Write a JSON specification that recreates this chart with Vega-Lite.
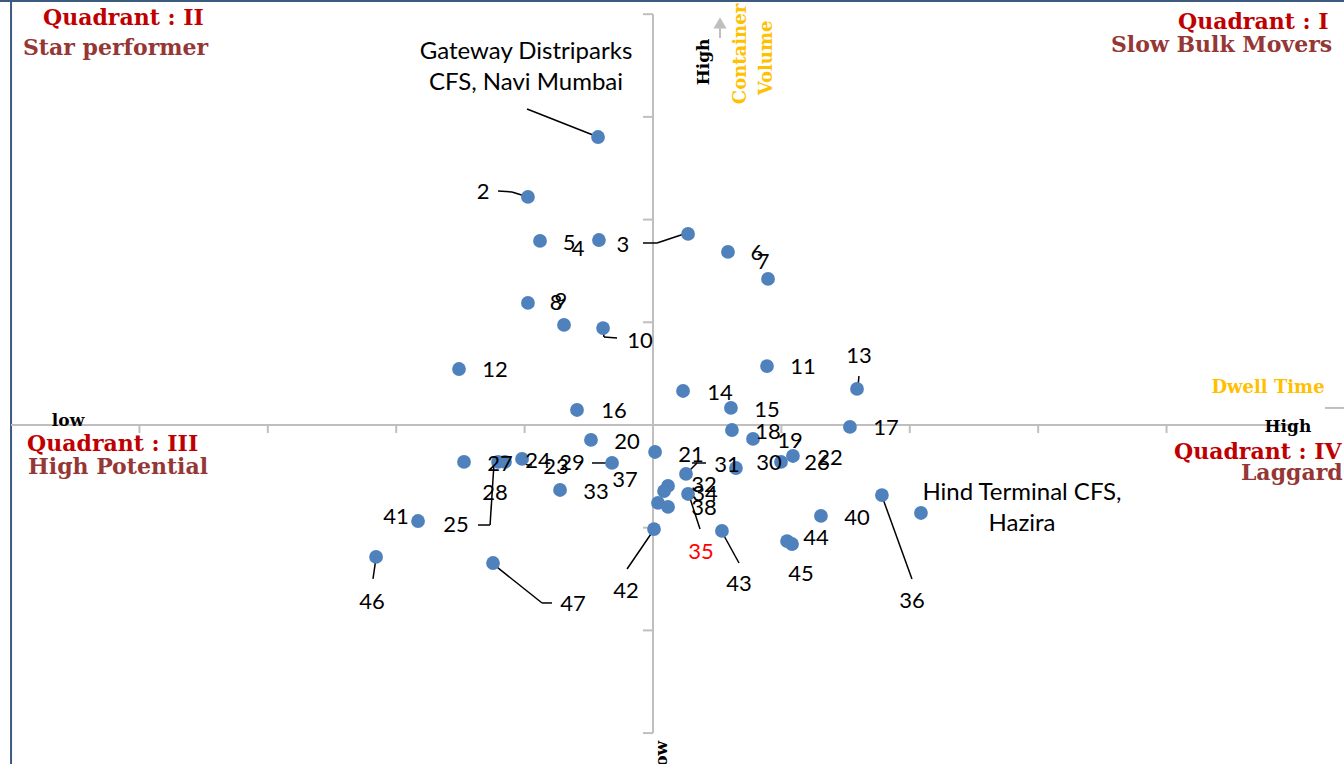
{
  "$schema": "https://vega.github.io/schema/vega-lite/v6.json",
  "width": 1344,
  "height": 764,
  "autosize": {"type": "none"},
  "padding": 0,
  "background": "#ffffff",
  "config": {"view": {"stroke": null}},
  "datasets": {
    "points": [
      {"id": 1, "x": -0.428, "y": 2.804}, {"id": 2, "x": -0.974, "y": 2.22},
      {"id": 3, "x": 0.273, "y": 1.86}, {"id": 4, "x": -0.421, "y": 1.801},
      {"id": 5, "x": -0.88, "y": 1.792}, {"id": 6, "x": 0.584, "y": 1.685},
      {"id": 7, "x": 0.896, "y": 1.422}, {"id": 8, "x": -0.974, "y": 1.188},
      {"id": 9, "x": -0.693, "y": 0.974}, {"id": 10, "x": -0.389, "y": 0.944},
      {"id": 11, "x": 0.888, "y": 0.574}, {"id": 12, "x": -1.511, "y": 0.545},
      {"id": 13, "x": 1.589, "y": 0.351}, {"id": 14, "x": 0.234, "y": 0.331},
      {"id": 15, "x": 0.607, "y": 0.166}, {"id": 16, "x": -0.592, "y": 0.146},
      {"id": 17, "x": 1.534, "y": -0.019}, {"id": 18, "x": 0.615, "y": -0.049},
      {"id": 19, "x": 0.779, "y": -0.136}, {"id": 20, "x": -0.483, "y": -0.146},
      {"id": 21, "x": 0.257, "y": -0.477}, {"id": 22, "x": 1.09, "y": -0.302},
      {"id": 23, "x": -1.153, "y": -0.36}, {"id": 24, "x": -1.02, "y": -0.331},
      {"id": 25, "x": -1.207, "y": -0.36}, {"id": 26, "x": 0.997, "y": -0.36},
      {"id": 27, "x": -1.472, "y": -0.36}, {"id": 29, "x": -0.319, "y": -0.37},
      {"id": 31, "x": 0.646, "y": -0.419}, {"id": 32, "x": 0.117, "y": -0.594},
      {"id": 33, "x": -0.724, "y": -0.633}, {"id": 34, "x": 0.086, "y": -0.643},
      {"id": 35, "x": 0.273, "y": -0.672}, {"id": 36, "x": 1.783, "y": -0.682},
      {"id": 37, "x": 0.016, "y": -0.263}, {"id": 38, "x": 0.039, "y": -0.759},
      {"id": 39, "x": 2.087, "y": -0.857}, {"id": 30, "x": 0.117, "y": -0.798},
      {"id": 40, "x": 1.308, "y": -0.886}, {"id": 41, "x": -1.83, "y": -0.935},
      {"id": 42, "x": 0.008, "y": -1.013}, {"id": 43, "x": 0.537, "y": -1.032},
      {"id": 44, "x": 1.044, "y": -1.13}, {"id": 45, "x": 1.083, "y": -1.159},
      {"id": 46, "x": -2.157, "y": -1.285}, {"id": 47, "x": -1.246, "y": -1.344}
    ],
    "labels": [
      {"label": "2", "x": -1.324, "y": 2.269}, {"label": "5", "x": -0.654, "y": 1.772},
      {"label": "4", "x": -0.584, "y": 1.714}, {"label": "3", "x": -0.234, "y": 1.753},
      {"label": "6", "x": 0.81, "y": 1.675}, {"label": "7", "x": 0.857, "y": 1.587},
      {"label": "8", "x": -0.755, "y": 1.188}, {"label": "9", "x": -0.717, "y": 1.207},
      {"label": "10", "x": -0.101, "y": 0.818}, {"label": "11", "x": 1.168, "y": 0.565},
      {"label": "12", "x": -1.231, "y": 0.536}, {"label": "13", "x": 1.604, "y": 0.672},
      {"label": "14", "x": 0.522, "y": 0.312}, {"label": "15", "x": 0.888, "y": 0.146},
      {"label": "16", "x": -0.304, "y": 0.136}, {"label": "17", "x": 1.815, "y": -0.029},
      {"label": "18", "x": 0.896, "y": -0.068}, {"label": "19", "x": 1.067, "y": -0.156},
      {"label": "20", "x": -0.202, "y": -0.166}, {"label": "21", "x": 0.296, "y": -0.292},
      {"label": "27", "x": -1.192, "y": -0.38}, {"label": "24", "x": -0.896, "y": -0.351},
      {"label": "23", "x": -0.755, "y": -0.409}, {"label": "29", "x": -0.631, "y": -0.37},
      {"label": "28", "x": -1.231, "y": -0.662}, {"label": "25", "x": -1.534, "y": -0.974},
      {"label": "33", "x": -0.444, "y": -0.652}, {"label": "37", "x": -0.218, "y": -0.536},
      {"label": "31", "x": 0.576, "y": -0.389}, {"label": "30", "x": 0.903, "y": -0.37},
      {"label": "26", "x": 1.277, "y": -0.37}, {"label": "22", "x": 1.379, "y": -0.321},
      {"label": "32", "x": 0.397, "y": -0.584}, {"label": "34", "x": 0.405, "y": -0.672},
      {"label": "38", "x": 0.397, "y": -0.808}, {"label": "35", "x": 0.374, "y": -1.237},
      {"label": "42", "x": -0.21, "y": -1.616}, {"label": "43", "x": 0.67, "y": -1.548},
      {"label": "40", "x": 1.589, "y": -0.906}, {"label": "44", "x": 1.269, "y": -1.1},
      {"label": "45", "x": 1.153, "y": -1.451}, {"label": "36", "x": 2.017, "y": -1.714},
      {"label": "41", "x": -2.002, "y": -0.896}, {"label": "46", "x": -2.188, "y": -1.723},
      {"label": "47", "x": -0.623, "y": -1.743}
    ],
    "names": [
      {"label": "Gateway Distriparks\nCFS, Navi Mumbai", "x": -0.989, "y": 3.632},
      {"label": "Hind Terminal CFS,\nHazira", "x": 2.874, "y": -0.662}
    ],
    "leaders": [
      {"x": -0.981, "y": 3.077, "x2": -0.428, "y2": 2.804},
      {"x": -1.207, "y": 2.278, "x2": -1.098, "y2": 2.269},
      {"x": -1.098, "y": 2.269, "x2": -0.974, "y2": 2.22},
      {"x": -0.078, "y": 1.772, "x2": 0.031, "y2": 1.772},
      {"x": 0.031, "y": 1.772, "x2": 0.265, "y2": 1.87},
      {"x": -0.389, "y": 0.935, "x2": -0.382, "y2": 0.857},
      {"x": -0.382, "y": 0.857, "x2": -0.28, "y2": 0.847},
      {"x": 1.604, "y": 0.477, "x2": 1.597, "y2": 0.38},
      {"x": 0.304, "y": -0.37, "x2": 0.413, "y2": -0.37},
      {"x": 0.343, "y": -0.37, "x2": 0.265, "y2": -0.467},
      {"x": -1.012, "y": -0.351, "x2": -0.981, "y2": -0.389},
      {"x": -0.981, "y": -0.389, "x2": -0.942, "y2": -0.389},
      {"x": -1.363, "y": -0.974, "x2": -1.269, "y2": -0.974},
      {"x": -1.269, "y": -0.974, "x2": -1.238, "y2": -0.37},
      {"x": -0.475, "y": -0.37, "x2": -0.319, "y2": -0.37},
      {"x": 0.28, "y": -0.682, "x2": 0.366, "y2": -1.013},
      {"x": -0.202, "y": -1.402, "x2": 0.0, "y2": -1.032},
      {"x": 0.537, "y": -1.042, "x2": 0.67, "y2": -1.344},
      {"x": 1.783, "y": -0.691, "x2": 2.017, "y2": -1.499},
      {"x": -2.157, "y": -1.295, "x2": -2.181, "y2": -1.499},
      {"x": -1.246, "y": -1.353, "x2": -0.864, "y2": -1.733},
      {"x": -0.864, "y": -1.733, "x2": -0.787, "y2": -1.733}
    ],
    "axes": [
      {"x": -5, "y": 0, "x2": 5, "y2": 0},
      {"x": 0, "y": -3, "x2": 0, "y2": 4},
      {"x": -4, "y": 0, "x2": -4, "y2": -0.078}, {"x": -3, "y": 0, "x2": -3, "y2": -0.078},
      {"x": -2, "y": 0, "x2": -2, "y2": -0.078}, {"x": -1, "y": 0, "x2": -1, "y2": -0.078},
      {"x": 1, "y": 0, "x2": 1, "y2": -0.078}, {"x": 2, "y": 0, "x2": 2, "y2": -0.078},
      {"x": 3, "y": 0, "x2": 3, "y2": -0.078}, {"x": 4, "y": 0, "x2": 4, "y2": -0.078},
      {"x": 5, "y": 0, "x2": 5, "y2": -0.078},
      {"x": -0.078, "y": -3, "x2": 0, "y2": -3}, {"x": -0.078, "y": -2, "x2": 0, "y2": -2},
      {"x": -0.078, "y": -1, "x2": 0, "y2": -1}, {"x": -0.078, "y": 1, "x2": 0, "y2": 1},
      {"x": -0.078, "y": 2, "x2": 0, "y2": 2}, {"x": -0.078, "y": 3, "x2": 0, "y2": 3},
      {"x": -0.078, "y": 4, "x2": 0, "y2": 4},
      {"x": 0.522, "y": 3.768, "x2": 0.522, "y2": 3.9},
      {"x": 5.234, "y": 0.166, "x2": 5.382, "y2": 0.166}
    ],
    "frame": [
      {"x": -5.0, "y": 4.138, "x2": -5.0, "y2": -3.301},
      {"x": -5.086, "y": 4.128, "x2": 5.382, "y2": 4.128}
    ]
  },
  "encoding": {
    "x": {"field": "x", "type": "quantitative", "axis": null,
      "scale": {"domain": [-5.086, 5.382], "nice": false, "zero": false}},
    "y": {"field": "y", "type": "quantitative", "axis": null,
      "scale": {"domain": [-3.301, 4.138], "nice": false, "zero": false}}
  },
  "layer": [
    {
      "data": {"name": "frame"},
      "mark": {"type": "rule", "color": "#3b5a7e", "strokeWidth": 2},
      "encoding": {"x2": {"field": "x2"}, "y2": {"field": "y2"}}
    },
    {
      "data": {"name": "axes"},
      "mark": {"type": "rule", "color": "#bfbfbf", "strokeWidth": 2},
      "encoding": {"x2": {"field": "x2"}, "y2": {"field": "y2"}}
    },
    {
      "data": {"values": [{"x": 0.522, "y": 3.915}]},
      "mark": {"type": "point", "shape": "triangle-up", "filled": true, "size": 170, "color": "#bfbfbf", "opacity": 1}
    },
    {
      "data": {"name": "leaders"},
      "mark": {"type": "rule", "color": "#000000", "strokeWidth": 1.5},
      "encoding": {"x2": {"field": "x2"}, "y2": {"field": "y2"}}
    },
    {
      "data": {"name": "points"},
      "mark": {"type": "circle", "size": 190, "color": "#4f81bd", "opacity": 1}
    },
    {
      "data": {"name": "labels"},
      "mark": {"type": "text", "font": "Lato", "fontSize": 22, "align": "center", "baseline": "middle"},
      "encoding": {
        "text": {"field": "label"},
        "color": {"condition": {"test": "datum.label === '35'", "value": "#ff0000"}, "value": "#000000"}
      }
    },
    {
      "data": {"name": "names"},
      "mark": {"type": "text", "font": "Lato", "fontSize": 24, "align": "center", "baseline": "middle", "lineBreak": "\n", "lineHeight": 31, "color": "#000000"},
      "encoding": {"text": {"field": "label"}}
    },
    {
      "data": {"values": [
        {"t": "Quadrant : II", "x": -4.751, "y": 3.963},
        {"t": "Quadrant : I", "x": 4.089, "y": 3.924},
        {"t": "Quadrant : III", "x": -4.875, "y": -0.185},
        {"t": "Quadrant : IV", "x": 4.058, "y": -0.263}
      ]},
      "mark": {"type": "text", "font": "DejaVu Serif", "fontWeight": "bold", "fontSize": 22, "align": "left", "baseline": "middle", "color": "#c00000"},
      "encoding": {"text": {"field": "t"}}
    },
    {
      "data": {"values": [
        {"t": "Star performer", "x": -4.907, "y": 3.67},
        {"t": "Slow Bulk Movers", "x": 3.567, "y": 3.7},
        {"t": "High Potential", "x": -4.868, "y": -0.409},
        {"t": "Laggard", "x": 4.579, "y": -0.467}
      ]},
      "mark": {"type": "text", "font": "DejaVu Serif", "fontWeight": "bold", "fontSize": 22, "align": "left", "baseline": "middle", "color": "#953735"},
      "encoding": {"text": {"field": "t"}}
    },
    {
      "data": {"values": [
        {"t": "low", "x": -4.556, "y": 0.039},
        {"t": "High", "x": 4.945, "y": -0.019}
      ]},
      "mark": {"type": "text", "font": "DejaVu Serif", "fontWeight": "bold", "fontSize": 17, "align": "center", "baseline": "middle", "color": "#000000"},
      "encoding": {"text": {"field": "t"}}
    },
    {
      "data": {"values": [{"t": "Dwell Time", "x": 4.79, "y": 0.36}]},
      "mark": {"type": "text", "font": "DejaVu Serif", "fontWeight": "bold", "fontSize": 18, "align": "center", "baseline": "middle", "color": "#ffc000"},
      "encoding": {"text": {"field": "t"}}
    },
    {
      "data": {"values": [
        {"t": "High", "x": 0.397, "y": 3.535},
        {"t": "low", "x": 0.07, "y": -3.233}
      ]},
      "mark": {"type": "text", "font": "DejaVu Serif", "fontWeight": "bold", "fontSize": 17, "align": "center", "baseline": "middle", "angle": 270, "color": "#000000"},
      "encoding": {"text": {"field": "t"}}
    },
    {
      "data": {"values": [
        {"t": "Container", "x": 0.685, "y": 3.612},
        {"t": "Volume", "x": 0.888, "y": 3.574}
      ]},
      "mark": {"type": "text", "font": "DejaVu Serif", "fontWeight": "bold", "fontSize": 18, "align": "center", "baseline": "middle", "angle": 270, "color": "#ffc000"},
      "encoding": {"text": {"field": "t"}}
    }
  ]
}
